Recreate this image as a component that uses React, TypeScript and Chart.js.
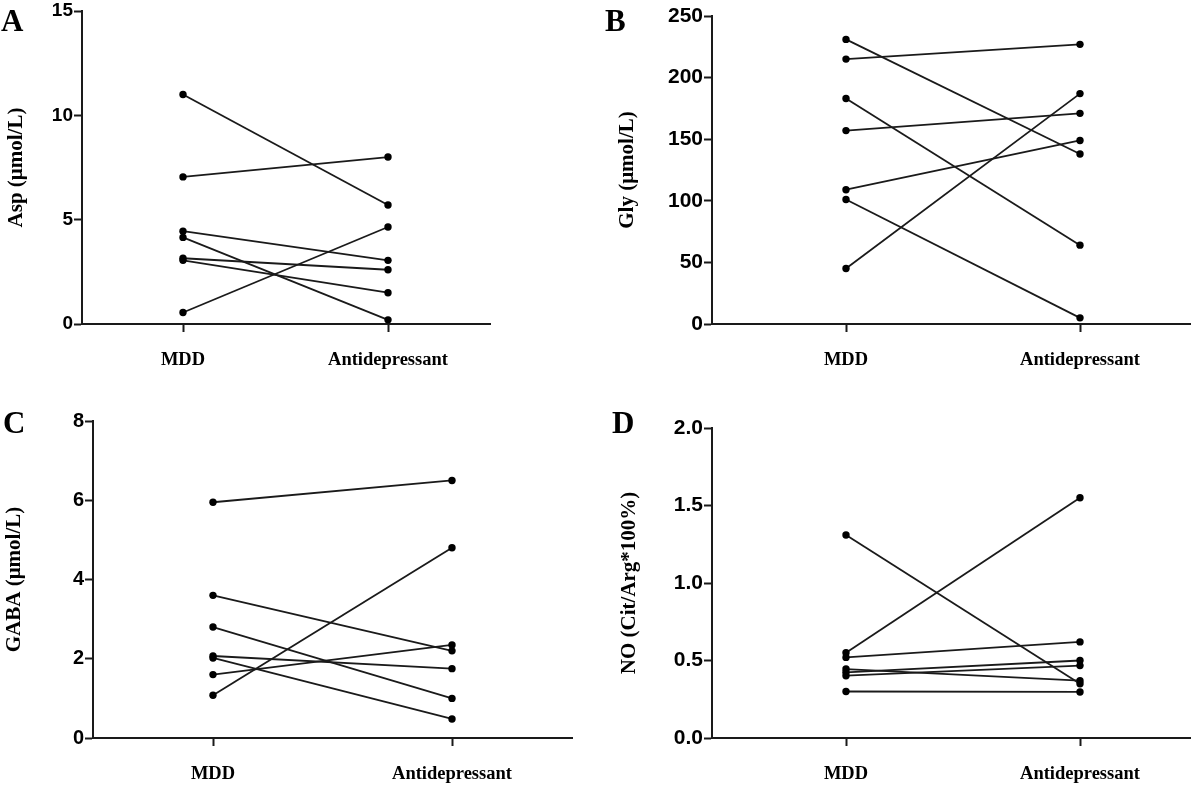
import React, { useEffect, useRef } from "react";
import { Chart, registerables } from "chart.js";

Chart.register(...registerables);

// ---- data ----
const groups = ["MDD", "Antidepressant"];

const aspMDD = [11.0, 7.05, 4.45, 4.15, 3.15, 3.05, 0.55];
const aspAnti = [5.7, 8.0, 3.05, 0.2, 2.6, 1.5, 4.65];
const aspTicks = [0, 5, 10, 15];

const glyMDD = [231, 215, 183, 157, 109, 101, 45];
const glyAnti = [138, 227, 64, 171, 149, 5, 187];
const glyTicks = [0, 50, 100, 150, 200, 250];

const gabaMDD = [5.95, 3.6, 2.8, 2.07, 2.02, 1.6, 1.08];
const gabaAnti = [6.5, 2.2, 1.0, 1.75, 0.48, 2.35, 4.8];
const gabaTicks = [0, 2, 4, 6, 8];

const noMDD = [1.31, 0.55, 0.52, 0.445, 0.424, 0.402, 0.3];
const noAnti = [0.35, 1.55, 0.62, 0.37, 0.5, 0.467, 0.297];
const noTicks = [0, 0.5, 1.0, 1.5, 2.0];

// ---- layout (page coordinates) ----
type Layout = {
  cl: number; ct: number; cw: number; ch: number;
  axisX: number; mddX: number; antiX: number; endX: number;
  topY: number; bottomY: number; padLeft: number;
  letterX: number; letterY: number; tickSize: number;
};

const panels = [
  {
    letter: "A", title: "Asp (μmol/L)", mdd: aspMDD, anti: aspAnti, ticks: aspTicks, dec: 0,
    lay: { cl: 0, ct: 0, cw: 600, ch: 390, axisX: 82, mddX: 183, antiX: 388, endX: 490, topY: 11, bottomY: 324, padLeft: 4, letterX: 1, letterY: 5, tickSize: 19 } as Layout,
  },
  {
    letter: "B", title: "Gly (μmol/L)", mdd: glyMDD, anti: glyAnti, ticks: glyTicks, dec: 0,
    lay: { cl: 600, ct: 0, cw: 600, ch: 390, axisX: 712, mddX: 846, antiX: 1080, endX: 1190, topY: 16, bottomY: 324, padLeft: 15, letterX: 605, letterY: 5, tickSize: 21 } as Layout,
  },
  {
    letter: "C", title: "GABA (μmol/L)", mdd: gabaMDD, anti: gabaAnti, ticks: gabaTicks, dec: 0,
    lay: { cl: 0, ct: 390, cw: 600, ch: 398, axisX: 93, mddX: 213, antiX: 452, endX: 572, topY: 421, bottomY: 738, padLeft: 2, letterX: 3, letterY: 407, tickSize: 20 } as Layout,
  },
  {
    letter: "D", title: "NO (Cit/Arg*100%)", mdd: noMDD, anti: noAnti, ticks: noTicks, dec: 1,
    lay: { cl: 600, ct: 390, cw: 600, ch: 398, axisX: 712, mddX: 846, antiX: 1080, endX: 1190, topY: 428, bottomY: 738, padLeft: 17, letterX: 612, letterY: 407, tickSize: 21 } as Layout,
  },
];

const INK = "#1a1a1a";
const serifBold = { family: "'Liberation Serif', 'Times New Roman', serif", size: 18.5, weight: "bold" as const };
const titleFont = { family: "'Liberation Serif', 'Times New Roman', serif", size: 21, weight: "bold" as const, lineHeight: 1.2 };

function Panel({ p }: { p: (typeof panels)[number] }) {
  const ref = useRef<HTMLCanvasElement | null>(null);
  useEffect(() => {
    if (!ref.current) return;
    const L = p.lay;
    const unit = L.antiX - L.mddX;
    const xMin = 1 - (L.mddX - L.axisX) / unit;
    const xMax = 2 + (L.endX - L.antiX) / unit;
    const yAxisWidth = L.axisX - L.cl - L.padLeft;
    const xAxisHeight = L.ct + L.ch - L.bottomY;
    const padTop = L.topY - L.ct;
    const padRight = L.cl + L.cw - L.endX;
    const yMax = p.ticks[p.ticks.length - 1];
    const sansBold = { family: "'Liberation Sans', Arial, sans-serif", size: L.tickSize, weight: "bold" as const, lineHeight: 0.9 };

    const datasets = p.mdd.map((v, i) => ({
      data: [
        { x: 1, y: v },
        { x: 2, y: p.anti[i] },
      ],
      borderColor: INK,
      borderWidth: 1.8,
      pointRadius: 3.7,
      pointHoverRadius: 3.7,
      pointBackgroundColor: "#000",
      pointBorderColor: "#000",
      pointBorderWidth: 0,
      fill: false,
      tension: 0,
    }));

    const chart = new Chart(ref.current, {
      type: "line",
      data: { datasets },
      options: {
        animation: false,
        responsive: false,
        maintainAspectRatio: false,
        events: [],
        layout: { padding: { left: L.padLeft, top: padTop, right: padRight, bottom: 0 } },
        plugins: { legend: { display: false }, tooltip: { enabled: false } },
        scales: {
          x: {
            type: "linear",
            min: xMin,
            max: xMax,
            afterBuildTicks: (ax: any) => {
              ax.ticks = [{ value: 1 }, { value: 2 }];
            },
            afterFit: (s: any) => {
              s.height = xAxisHeight;
            },
            ticks: {
              callback: (v: any) => groups[Math.round(Number(v)) - 1],
              font: serifBold,
              color: "#000",
              padding: 17,
              maxRotation: 0,
              autoSkip: false,
            },
            grid: { drawOnChartArea: false, drawTicks: true, tickLength: 8, tickColor: INK, tickWidth: 2 },
            border: { display: true, color: INK, width: 2 },
          },
          y: {
            type: "linear",
            min: 0,
            max: yMax,
            afterBuildTicks: (ax: any) => {
              ax.ticks = p.ticks.map((v) => ({ value: v }));
            },
            afterFit: (s: any) => {
              s.width = yAxisWidth;
            },
            ticks: {
              callback: (v: any) => Number(v).toFixed(p.dec),
              font: sansBold,
              color: "#000",
              padding: 1,
            },
            grid: { drawOnChartArea: false, drawTicks: true, tickLength: 8, tickColor: INK, tickWidth: 2 },
            border: { display: true, color: INK, width: 2 },
            title: { display: true, text: p.title, font: titleFont, color: "#000", padding: 0 },
          },
        },
      },
    } as any);
    return () => chart.destroy();
  }, [p]);

  const L = p.lay;
  return (
    <>
      <canvas
        ref={ref}
        width={L.cw}
        height={L.ch}
        style={{ position: "absolute", left: L.cl, top: L.ct, width: L.cw, height: L.ch }}
      />
      <div
        style={{
          position: "absolute",
          left: L.letterX,
          top: L.letterY,
          fontFamily: "'Liberation Serif', 'Times New Roman', serif",
          fontWeight: "bold",
          fontSize: 31,
          lineHeight: "31px",
          color: "#000",
        }}
      >
        {p.letter}
      </div>
    </>
  );
}

export default function App() {
  return (
    <div style={{ position: "absolute", left: 0, top: 0, width: 1200, height: 788, background: "#fff", overflow: "hidden" }}>
      {panels.map((p) => (
        <Panel key={p.letter} p={p} />
      ))}
    </div>
  );
}
